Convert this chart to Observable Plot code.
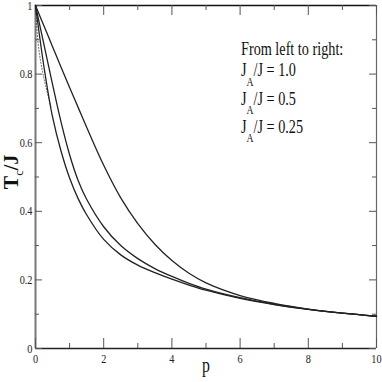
<!DOCTYPE html>
<html><head><meta charset="utf-8">
<script src="https://cdn.jsdelivr.net/npm/d3@7"></script>
<script src="https://cdn.jsdelivr.net/npm/@observablehq/plot@0.6"></script>
<style>body{margin:0;background:#fff}#chart{width:382px;height:382px}</style>
</head><body><div id="chart"></div>
<script>
// p values at which the curves were read
const pGrid   = [0, 0.25, 0.5, 0.75, 1, 1.25, 1.5, 2, 2.5, 3, 3.5, 4, 4.5, 5, 6, 7, 8, 9, 10];
// Tc/J for J_A/J = 1.0 (left), 0.5 (middle), 0.25 (right)
const tcJA100 = [1.0, 0.82, 0.675, 0.575, 0.497, 0.437, 0.39, 0.318, 0.273, 0.243, 0.221, 0.202, 0.185, 0.170, 0.146, 0.128, 0.114, 0.103, 0.094];
const tcJA050 = [1.0, 0.885, 0.77, 0.66, 0.565, 0.49, 0.435, 0.355, 0.30, 0.262, 0.233, 0.21, 0.19, 0.173, 0.148, 0.129, 0.114, 0.103, 0.094];
const tcJA025 = [1.0, 0.94, 0.88, 0.82, 0.761, 0.703, 0.645, 0.534, 0.439, 0.364, 0.304, 0.2565, 0.2195, 0.1915, 0.1545, 0.1315, 0.115, 0.103, 0.094];
// dotted segment near p = 0
const dotP = [0, 0.05, 0.1, 0.2, 0.3, 0.45];
const dotT = [1.0, 0.92, 0.87, 0.81, 0.765, 0.705];

const xDomain = [0, 10];
const yDomain = [0, 1];
const xMajor = [0, 2, 4, 6, 8, 10];
const xMinor = [1, 3, 5, 7, 9];
const yMajor = [0, 0.2, 0.4, 0.6, 0.8, 1];
const yMinor = [0.1, 0.3, 0.5, 0.7, 0.9];
const xTickLabels = ["0", "2", "4", "6", "8", "10"];
const yTickLabels = ["0", "0.2", "0.4", "0.6", "0.8", "1"];
const legendLines = ["From left to right:", "J_A/J = 1.0", "J_A/J = 0.5", "J_A/J = 0.25"];
const xLabel = "p";
const yLabel = "T_c/J";

const rows = (ps, ts) => ps.map((p, i) => ({p, t: ts[i]}));

const W = 382, H = 382, mL = 35, mR = 6, mT = 5, mB = 34;
const fw = W - mL - mR, fh = H - mT - mB;
const majX = 10, minX = 5, majY = 7, minY = 4;
const tickColor = "#555";
const crv = "catmull-rom";

const marks = [
  // frame
  Plot.ruleX([xDomain[0]], {stroke: "#777", strokeWidth: 2}),
  Plot.ruleX([xDomain[1]], {stroke: "#666", strokeWidth: 1.2}),
  Plot.ruleY([yDomain[0]], {stroke: "#222", strokeWidth: 1.5}),
  Plot.ruleY([yDomain[1]], {stroke: "#111", strokeWidth: 1.5}),
  // inward ticks
  Plot.tickX(xMajor, {insetTop: fh - majX, stroke: tickColor}),
  Plot.tickX(xMinor, {insetTop: fh - minX, stroke: tickColor}),
  Plot.tickX(xMajor, {insetBottom: fh - majX, stroke: tickColor}),
  Plot.tickX(xMinor, {insetBottom: fh - minX, stroke: tickColor}),
  Plot.tickY(yMajor, {insetRight: fw - majY, stroke: tickColor}),
  Plot.tickY(yMinor, {insetRight: fw - minY, stroke: tickColor}),
  Plot.tickY(yMajor, {insetLeft: fw - majY, stroke: tickColor}),
  Plot.tickY(yMinor, {insetLeft: fw - minY, stroke: tickColor}),
  // tick labels
  Plot.axisX({ticks: xMajor, tickSize: 0, tickPadding: 5, tickFormat: d => xTickLabels[xMajor.indexOf(d)], fill: "#222"}),
  Plot.axisY({ticks: yMajor, tickSize: 0, tickPadding: 3, tickFormat: d => yTickLabels[yMajor.indexOf(d)], fill: "#222"}),
  // curves
  Plot.line(rows(dotP, dotT), {x: "p", y: "t", stroke: "#555", strokeWidth: 1, strokeDasharray: "1,2", curve: crv}),
  Plot.line(rows(pGrid, tcJA100), {x: "p", y: "t", stroke: "#222", strokeWidth: 1.3, curve: crv}),
  Plot.line(rows(pGrid, tcJA050), {x: "p", y: "t", stroke: "#222", strokeWidth: 1.3, curve: crv}),
  Plot.line(rows(pGrid, tcJA025), {x: "p", y: "t", stroke: "#222", strokeWidth: 1.3, curve: crv}),
  // axis titles
  Plot.text([xLabel], {frameAnchor: "bottom", textAnchor: "middle", lineAnchor: "middle", dy: 17, fontSize: 20, fill: "#111"}),
  Plot.text([yLabel], {frameAnchor: "left", textAnchor: "middle", lineAnchor: "middle", dx: -24, dy: -5, rotate: -90, fontSize: 20, fontWeight: "bold", fill: "#111"}),
  // legend text
  ...legendLines.map((s, i) => Plot.text([s], {
    frameAnchor: "top-left", textAnchor: "start", lineAnchor: "middle",
    dx: 205.5, dy: i === 0 ? 44.2 : 65.2 + 28.25 * (i - 1),
    fontSize: 18, fill: "#111"
  }))
];

const chart = Plot.plot({
  width: W, height: H,
  marginLeft: mL, marginRight: mR, marginTop: mT, marginBottom: mB,
  x: {domain: xDomain, label: null},
  y: {domain: yDomain, label: null},
  style: {fontFamily: "'Liberation Serif', 'Times New Roman', serif", fontSize: "13px", background: "#fff", color: "#000"},
  marks
});
document.getElementById("chart").append(chart);

// subscripts and horizontal condensing of the serif text (as in the reference)
const svgEl = chart.tagName.toLowerCase() === "svg" ? chart : chart.querySelector("svg");
d3.select(svgEl).selectAll("text").each(function () {
  const tr = this.getAttribute("transform") || "";
  const rotated = tr.includes("rotate");
  const fs = parseFloat(getComputedStyle(this).fontSize);
  const m = this.textContent.match(/^(.*?)_(.)(.*)$/);
  if (m) {
    const drop = rotated ? 0.25 * fs : 0.52 * fs;
    const sel = d3.select(this);
    sel.text(null);
    sel.append("tspan").text(m[1]);
    sel.append("tspan").attr("dy", drop).attr("font-size", (rotated ? 0.62 : 0.68) * fs).attr("font-weight", "normal").text(m[2]);
    sel.append("tspan").attr("dy", -drop).text(m[3]);
  }
  if (!rotated) {
    const L = this.getComputedTextLength();
    this.setAttribute("textLength", L * 0.79);
    this.setAttribute("lengthAdjust", "spacingAndGlyphs");
  }
});
</script>
</body></html>
